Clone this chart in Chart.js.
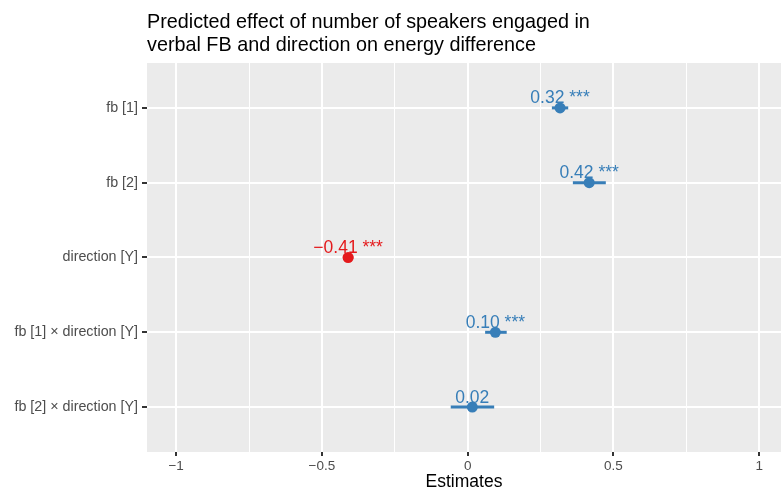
<!DOCTYPE html>
<html><head><meta charset="utf-8">
<script src="https://cdn.jsdelivr.net/npm/chart.js@4"></script>
<style>html,body{margin:0;padding:0;background:#fff;overflow:hidden}</style>
</head><body>
<canvas id="c" width="781" height="495"></canvas>
<script>
const terms = ['fb [1]','fb [2]','direction [Y]','fb [1] \u00d7 direction [Y]','fb [2] \u00d7 direction [Y]'];
const estimates = [0.317, 0.417, -0.41, 0.095, 0.016];
const ciLow = [0.289, 0.361, -0.428, 0.060, -0.058];
const ciHigh = [0.345, 0.474, -0.392, 0.134, 0.091];
const valueLabels = ['0.32','0.42','\u22120.41','0.10','0.02'];
const stars = ['***','***','***','***',''];
const xTicks = [-1,-0.75,-0.5,-0.25,0,0.25,0.5,0.75,1];
const xTickLabels = ['\u22121','','\u22120.5','','0','','0.5','','1'];
const titleLines = ['Predicted effect of number of speakers engaged in','verbal FB and direction on energy difference'];
const xTitle = 'Estimates';

const BLUE = '#377EB8', RED = '#E41A1C';
const FONT = '"Liberation Sans", Arial, sans-serif';
const colorOf = v => v < 0 ? RED : BLUE;
const yPos = i => terms.length - i;
const isMajor = v => Math.abs(v * 2 - Math.round(v * 2)) < 1e-9;

const datasets = [{
  data: estimates.map((v, i) => ({x: v, y: yPos(i)})),
  pointRadius: 5.5,
  pointBackgroundColor: estimates.map(colorOf),
  pointBorderColor: estimates.map(colorOf),
  pointBorderWidth: 0,
  showLine: false
}];
terms.forEach((t, i) => {
  datasets.push({
    data: [{x: ciLow[i], y: yPos(i)}, {x: ciHigh[i], y: yPos(i)}],
    showLine: true,
    borderColor: colorOf(estimates[i]),
    borderWidth: 3,
    borderCapStyle: 'butt',
    pointRadius: 0,
    fill: false
  });
});

const panelBg = {
  id: 'panelBg',
  beforeDraw(chart) {
    const {ctx, chartArea: a} = chart;
    ctx.save();
    ctx.fillStyle = '#fff';
    ctx.fillRect(0, 0, chart.width, chart.height);
    ctx.fillStyle = '#EBEBEB';
    ctx.fillRect(a.left, a.top, a.right - a.left, a.bottom - a.top);
    ctx.restore();
  }
};

const valueText = {
  id: 'valueText',
  afterDatasetsDraw(chart) {
    const {ctx, scales} = chart;
    ctx.save();
    ctx.font = '17.5px ' + FONT;
    ctx.textAlign = 'center';
    ctx.textBaseline = 'alphabetic';
    estimates.forEach((v, i) => {
      const px = scales.x.getPixelForValue(v);
      const py = scales.y.getPixelForValue(yPos(i));
      ctx.fillStyle = colorOf(v);
      const s = valueLabels[i] + (stars[i] ? ' ' + stars[i] : '');
      ctx.fillText(s, px, py - 4.5);
    });
    ctx.restore();
  }
};

const titlePlugin = {
  id: 'titlePlugin',
  afterDraw(chart) {
    const {ctx, chartArea: a} = chart;
    ctx.save();
    ctx.font = '19.8px ' + FONT;
    ctx.fillStyle = '#000';
    ctx.textAlign = 'left';
    ctx.textBaseline = 'alphabetic';
    ctx.fillText(titleLines[0], a.left, 27.5);
    ctx.fillText(titleLines[1], a.left, 50.8);
    ctx.restore();
  }
};

new Chart(document.getElementById('c'), {
  type: 'scatter',
  data: {datasets},
  options: {
    responsive: false,
    devicePixelRatio: 1,
    animation: false,
    layout: {autoPadding: false, padding: {top: 63, left: 0, right: 0, bottom: 0}},
    plugins: {legend: {display: false}, tooltip: {enabled: false}, title: {display: false}},
    scales: {
      x: {
        type: 'linear', min: -1.1, max: 1.075,
        afterBuildTicks: s => { s.ticks = xTicks.map(v => ({value: v})); },
        afterFit: s => { s.height = 43; },
        ticks: {
          autoSkip: false, maxRotation: 0, padding: 2,
          callback: (v, i) => xTickLabels[i],
          color: '#4D4D4D', font: {family: FONT, size: 13.5}
        },
        grid: {
          color: '#fff',
          lineWidth: c => (c.tick && isMajor(c.tick.value)) ? 2 : 1,
          tickColor: c => (c.tick && isMajor(c.tick.value)) ? '#333' : 'rgba(0,0,0,0)',
          tickWidth: 2,
          tickLength: 4
        },
        border: {display: false},
        title: {display: true, text: xTitle, color: '#000', font: {family: FONT, size: 17.5}, padding: {top: 0, bottom: 2}}
      },
      y: {
        type: 'linear', min: 0.4, max: 5.6,
        afterBuildTicks: s => { s.ticks = terms.map((t, i) => ({value: yPos(i)})); },
        afterFit: s => { s.width = 147; },
        ticks: {
          autoSkip: false, padding: 4,
          callback: v => terms[terms.length - v],
          color: '#4D4D4D', font: {family: FONT, size: 14.3}
        },
        grid: {color: '#fff', lineWidth: 2, tickColor: '#333', tickWidth: 2, tickLength: 5},
        border: {display: false}
      }
    }
  },
  plugins: [panelBg, valueText, titlePlugin]
});
</script>
</body></html>
